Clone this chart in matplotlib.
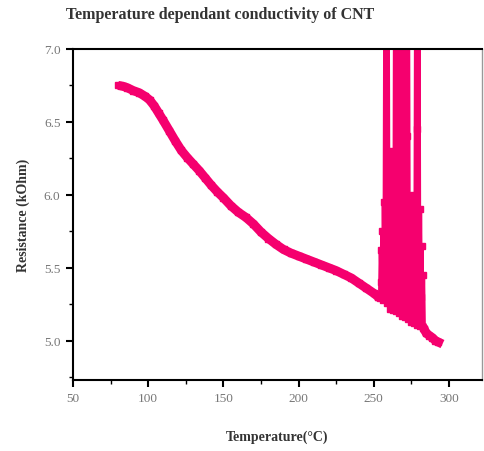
import matplotlib
matplotlib.use("Agg")
import matplotlib.pyplot as plt
from matplotlib.ticker import MultipleLocator

# Smooth branch
T_main = [80, 83, 86, 90, 94, 98, 101, 104, 107, 110, 114, 118, 122, 126, 130,
          134, 138, 142, 146, 150, 155, 160, 165, 170, 175, 180, 185, 190, 195,
          200, 205, 210, 215, 220, 225, 230, 235, 240, 245, 250, 253]
R_main = [6.75, 6.745, 6.735, 6.715, 6.70, 6.675, 6.65, 6.61, 6.56, 6.51, 6.44,
          6.37, 6.305, 6.255, 6.21, 6.165, 6.115, 6.065, 6.02, 5.98, 5.925, 5.88,
          5.845, 5.80, 5.745, 5.70, 5.66, 5.625, 5.60, 5.58, 5.56, 5.54, 5.52,
          5.50, 5.48, 5.455, 5.43, 5.395, 5.36, 5.325, 5.30]

# Noisy region
T_noise = [253, 254, 254.5, 255, 255.5, 256, 256.5, 257, 257.5, 258, 258.5, 259,
           259.5, 260, 260.5, 261, 261.5, 262, 262.5, 263, 263.5, 264, 264.5,
           265, 265.5, 266, 266.5, 267, 267.5, 268, 268.5, 269, 269.5, 270,
           270.5, 271, 271.5, 272, 272.5, 273, 273.5, 274, 274.5, 275, 275.5,
           276, 276.5, 277, 277.5, 278, 278.5, 279, 279.5, 280, 280.5, 281,
           281.5, 282, 282.5, 283, 283.5]
R_noise = [5.30, 5.29, 5.62, 5.40, 5.75, 5.28, 5.95, 5.50, 7.40, 5.35, 6.10, 5.26,
           7.40, 5.45, 5.80, 5.22, 6.30, 5.55, 5.21, 5.90, 5.30, 7.40, 5.60,
           5.20, 6.60, 5.40, 7.40, 5.19, 5.85, 5.45, 7.40, 5.17, 6.20, 5.50,
           7.40, 5.16, 5.70, 6.40, 5.15, 7.40, 5.35, 5.95, 5.13, 5.60, 5.30,
           6.00, 5.12, 5.75, 5.40, 7.40, 5.11, 6.45, 5.25, 7.40, 5.10, 5.90,
           5.30, 5.65, 5.09, 5.45, 5.08]

# Tail
T_tail = [283.5, 285, 287, 289, 291, 293]
R_tail = [5.08, 5.05, 5.035, 5.02, 5.00, 4.99]

x_ticks = [50, 100, 150, 200, 250, 300]
y_ticks = [5.0, 5.5, 6.0, 6.5, 7.0]

pink = "#F5006E"
serif = ["Liberation Serif", "DejaVu Serif"]

fig = plt.figure(figsize=(4.84, 4.52), dpi=100)
ax = fig.add_axes([73/484, 1-381/452, (482-73)/484, (381-50)/452])

ax.plot(T_main, R_main, color=pink, lw=6.5, solid_capstyle="butt",
        marker="s", ms=5)
ax.plot(T_noise, R_noise, color=pink, lw=2.6, marker="s", ms=4.5)
ax.plot(T_tail, R_tail, color=pink, lw=6.5, marker="s", ms=5)

ax.set_xlim(50, 322)
ax.set_ylim(4.73, 7.0)
ax.set_xticks(x_ticks)
ax.set_yticks(y_ticks)
ax.xaxis.set_minor_locator(MultipleLocator(25))
ax.yaxis.set_minor_locator(MultipleLocator(0.25))
ax.set_xticklabels([str(v) for v in x_ticks])
ax.set_yticklabels([f"{v:.1f}" for v in y_ticks])

ax.tick_params(which="major", direction="out", length=5, width=1.5,
               labelsize=9.5, labelcolor="#777777", pad=4)
ax.tick_params(which="minor", direction="out", length=3, width=1)
for lab in ax.get_xticklabels() + ax.get_yticklabels():
    lab.set_family(serif)

for s in ["left", "bottom", "top"]:
    ax.spines[s].set_linewidth(1.5)
    ax.spines[s].set_color("black")
ax.spines["right"].set_linewidth(1.0)
ax.spines["right"].set_color("#999999")

ax.set_xlabel("Temperature(°C)", family=serif, fontsize=10, fontweight="bold",
              color="#333333", labelpad=18)
ax.set_ylabel("Resistance (kOhm)", family=serif, fontsize=10, fontweight="bold",
              color="#333333", labelpad=10)

fig.text(220/484, 1-15/452, "Temperature dependant conductivity of CNT",
         family=serif, fontsize=11.5, fontweight="bold", color="#333333",
         ha="center", va="center")

fig.savefig("out.png", dpi=100)
